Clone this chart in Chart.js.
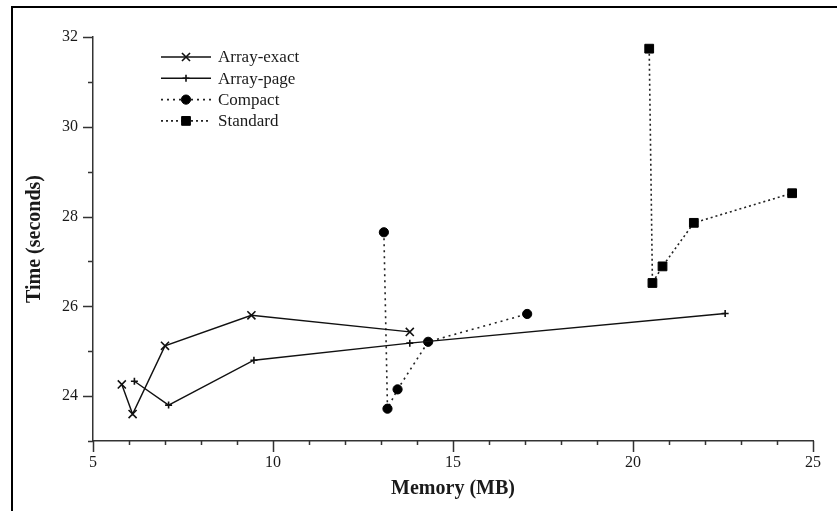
<!DOCTYPE html>
<html>
<head>
<meta charset="utf-8">
<script src="https://cdn.jsdelivr.net/npm/chart.js@4.4.1/dist/chart.umd.min.js"></script>
<style>
  html, body { margin: 0; padding: 0; background: #fff; }
  canvas { display: block; }
</style>
</head>
<body>
<canvas id="myChart" width="837" height="511"></canvas>
<script>
// valeurs
var seriesNames = ['Array-exact', 'Array-page', 'Compact', 'Standard'];
var exactMem = [5.8, 6.1, 7.0, 9.4, 13.8];
var exactTime = [24.26, 23.6, 25.12, 25.8, 25.43];
var pageMem = [6.15, 7.1, 9.47, 13.8, 22.56];
var pageTime = [24.33, 23.8, 24.8, 25.18, 25.84];
var compactMem = [13.08, 13.18, 13.46, 14.31, 17.06];
var compactTime = [27.65, 23.72, 24.15, 25.21, 25.83];
var standardMem = [20.45, 20.54, 20.82, 21.69, 24.42];
var standardTime = [31.74, 26.52, 26.89, 27.86, 28.52];
var xTickLabels = [5, 10, 15, 20, 25];
var yTickLabels = [24, 26, 28, 30, 32];

function pts(xs, ys) {
    return xs.map(function (x, i) { return { x: x, y: ys[i] }; });
}

var serif = 'Liberation Serif';
var ink = '#1a1a1a';

// cadre + graduations + légende dans le graphique
var extras = {
    id: 'extras',
    beforeDraw: function (chart) {
        var c = chart.ctx;
        c.save();
        c.strokeStyle = '#000';
        c.lineWidth = 2;
        c.beginPath();
        c.moveTo(12, 520);
        c.lineTo(12, 7);
        c.lineTo(845, 7);
        c.stroke();
        c.restore();
    },
    afterDraw: function (chart) {
        var c = chart.ctx;
        var xs = chart.scales.x, ys = chart.scales.y;
        var a = chart.chartArea;
        c.save();
        c.strokeStyle = '#333';
        c.lineWidth = 1.5;
        c.beginPath();
        for (var v = 5; v <= 25; v++) {
            var px = Math.round(xs.getPixelForValue(v)) + 0.5;
            c.moveTo(px, a.bottom);
            c.lineTo(px, a.bottom + (v % 5 === 0 ? 11 : 4));
        }
        for (var w = 23; w <= 32; w++) {
            var py = Math.round(ys.getPixelForValue(w)) + 0.5;
            c.moveTo(a.left, py);
            c.lineTo(a.left - (w % 2 === 0 ? 10 : 5), py);
        }
        c.stroke();

        // légende
        chart.data.datasets.forEach(function (ds, i) {
            var y = 57 + i * 21.3;
            c.strokeStyle = ds.borderColor;
            c.lineWidth = ds.borderWidth;
            c.setLineDash(ds.borderDash || []);
            c.beginPath();
            c.moveTo(161, y);
            c.lineTo(211, y);
            c.stroke();
            c.setLineDash([]);
            c.fillStyle = ds.pointBackgroundColor;
            c.strokeStyle = ds.pointBorderColor;
            c.lineWidth = ds.pointBorderWidth;
            Chart.helpers.drawPoint(c, { pointStyle: ds.pointStyle, radius: ds.pointRadius, borderWidth: ds.pointBorderWidth }, 186, y);
            c.fillStyle = ink;
            c.font = '17px "' + serif + '"';
            c.textBaseline = 'middle';
            c.textAlign = 'left';
            c.fillText(ds.label, 218, y + 1);
        });
        c.restore();
    }
};

var ctx = document.getElementById('myChart').getContext('2d');
var myChart = new Chart(ctx, {
    type: 'scatter',
    data: {
        datasets: [{
            label: seriesNames[0],
            data: pts(exactMem, exactTime),
            showLine: true,
            borderColor: '#111',
            borderWidth: 1.4,
            pointStyle: 'crossRot',
            pointRadius: 5.7,
            pointBorderWidth: 1.6,
            pointBorderColor: '#111',
            pointBackgroundColor: '#111'
        }, {
            label: seriesNames[1],
            data: pts(pageMem, pageTime),
            showLine: true,
            borderColor: '#111',
            borderWidth: 1.4,
            pointStyle: 'cross',
            pointRadius: 3.5,
            pointBorderWidth: 1.6,
            pointBorderColor: '#111',
            pointBackgroundColor: '#111'
        }, {
            label: seriesNames[2],
            data: pts(compactMem, compactTime),
            showLine: true,
            borderColor: '#222',
            borderWidth: 1.6,
            borderDash: [2, 4],
            pointStyle: 'circle',
            pointRadius: 4.6,
            pointBorderWidth: 1,
            pointBorderColor: '#000',
            pointBackgroundColor: '#000'
        }, {
            label: seriesNames[3],
            data: pts(standardMem, standardTime),
            showLine: true,
            borderColor: '#222',
            borderWidth: 1.6,
            borderDash: [2, 3],
            pointStyle: 'rect',
            pointRadius: 6.2,
            pointBorderWidth: 1,
            pointBorderColor: '#000',
            pointBackgroundColor: '#000'
        }]
    },
    options: {
        responsive: false,
        animation: false,
        layout: { padding: { left: 0, right: 24, top: 37, bottom: 0 } },
        plugins: { legend: { display: false }, tooltip: { enabled: false } },
        scales: {
            x: {
                type: 'linear',
                min: 5,
                max: 25,
                afterFit: function (s) { s.height = 70; },
                ticks: {
                    stepSize: 1,
                    autoSkip: false,
                    maxRotation: 0,
                    padding: 12,
                    color: ink,
                    font: { family: serif, size: 16 },
                    callback: function (v) { return xTickLabels.indexOf(v) >= 0 ? String(v) : ''; }
                },
                grid: { drawOnChartArea: false, drawTicks: false },
                border: { color: '#333', width: 1.5 },
                title: {
                    display: true,
                    text: 'Memory (MB)',
                    color: ink,
                    font: { family: serif, size: 20, weight: 'bold' },
                    padding: { top: 0, bottom: 10 }
                }
            },
            y: {
                min: 23,
                max: 32,
                afterFit: function (s) { s.width = 93; },
                ticks: {
                    stepSize: 1,
                    autoSkip: false,
                    padding: 15,
                    color: ink,
                    font: { family: serif, size: 16 },
                    callback: function (v) { return yTickLabels.indexOf(v) >= 0 ? String(v) : ''; }
                },
                grid: { drawOnChartArea: false, drawTicks: false },
                border: { color: '#333', width: 1.5 },
                title: {
                    display: true,
                    text: 'Time (seconds)',
                    color: ink,
                    font: { family: serif, size: 20, weight: 'bold' },
                    padding: { top: 23, bottom: 0 }
                }
            }
        }
    },
    plugins: [extras]
});
</script>
</body>
</html>
